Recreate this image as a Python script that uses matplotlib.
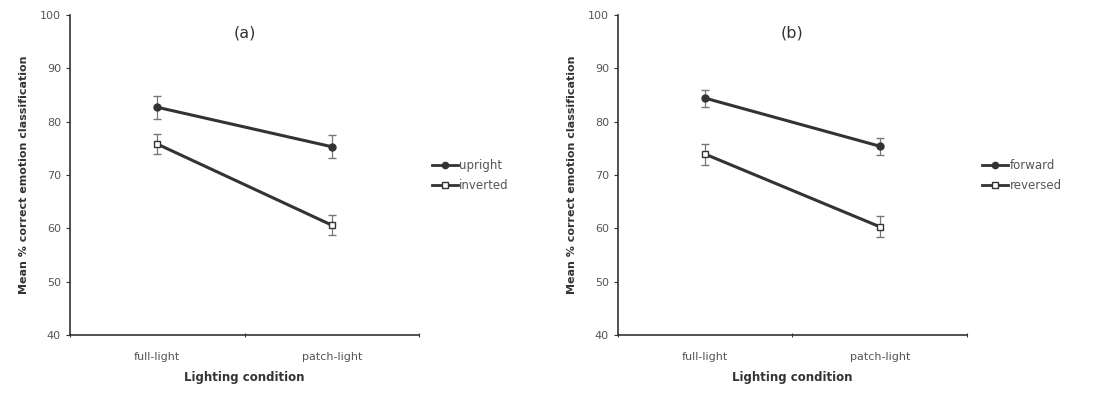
import matplotlib
matplotlib.use("Agg")
import matplotlib.pyplot as plt
from matplotlib.ticker import FixedLocator
from matplotlib.lines import Line2D

categories = ["full-light", "patch-light"]
upright = [82.7, 75.3]
upright_err = [2.2, 2.2]
inverted = [75.8, 60.6]
inverted_err = [1.8, 1.9]
forward = [84.4, 75.4]
forward_err = [1.6, 1.6]
reversed_ = [73.9, 60.3]
reversed_err = [2.0, 2.0]
yticks = [40, 50, 60, 70, 80, 90, 100]

fig = plt.figure(figsize=(11.01, 3.94), dpi=100)
plt.rcParams['font.family'] = ['DejaVu Sans']

panels = [
    ("(a)", 0.0636, [("upright", upright, upright_err, "filled"), ("inverted", inverted, inverted_err, "open")], 0.392),
    ("(b)", 0.5613, [("forward", forward, forward_err, "filled"), ("reversed", reversed_, reversed_err, "open")], 0.892),
]

lc = "#333333"
tc = "#555555"
for title, left, series, legx in panels:
    ax = fig.add_axes([left, 0.1497, 0.317, 0.8123])
    xs = [0.5, 1.5]
    handles = []
    for name, vals, err, style in series:
        mfc = lc if style == "filled" else "white"
        mk = "o" if style == "filled" else "s"
        ax.errorbar(xs, vals, yerr=err, color=lc, lw=2.2, marker=mk,
                    ms=5, mfc=mfc, mec=lc, mew=1.0, ecolor="#777777", elinewidth=0.9,
                    capsize=3, capthick=0.9)
        handles.append(Line2D([], [], color=lc, lw=2.0, marker=mk, ms=4.5, mfc=mfc, mec=lc, mew=1.0, label=name))
    ax.set_xlim(0, 2)
    ax.set_ylim(40, 100)
    ax.set_yticks(yticks)
    ax.xaxis.set_major_locator(FixedLocator([0, 1, 2]))
    ax.xaxis.set_minor_locator(FixedLocator(xs))
    ax.set_xticklabels([])
    ax.set_xticklabels(categories, minor=True)
    ax.tick_params(axis="x", which="major", length=3, direction="inout", color=lc)
    ax.tick_params(axis="x", which="minor", length=0, labelsize=8, labelcolor=tc, pad=12)
    ax.tick_params(axis="y", length=3, direction="out", labelsize=8, labelcolor=tc, color=lc)
    for s in ["top", "right"]:
        ax.spines[s].set_visible(False)
    for s in ["left", "bottom"]:
        ax.spines[s].set_color(lc)
        ax.spines[s].set_linewidth(1.2)
    ax.set_title(title, fontsize=11.5, color="#333333", y=0.905)
    ax.set_xlabel("Lighting condition", fontsize=8.5, fontweight="bold", color="#333333", labelpad=7)
    ax.set_ylabel("Mean % correct emotion classification", fontsize=8, fontweight="bold", color="#333333", labelpad=8)
    fig.legend(handles=handles, loc="center left", bbox_to_anchor=(legx, 0.555),
               frameon=False, fontsize=8.5, labelcolor=tc, handlelength=2.2, handletextpad=0.15,
               labelspacing=0.6, borderaxespad=0, borderpad=0)

fig.savefig("out.png", dpi=100)
